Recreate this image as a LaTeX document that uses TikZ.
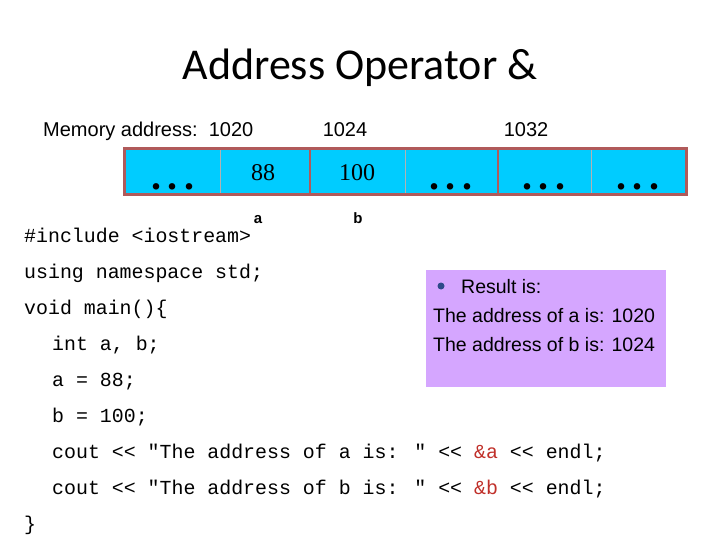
\documentclass[tikz,border=0pt]{standalone}
\usepackage{fontspec}
\setmainfont{Liberation Sans}
\newfontfamily\titlefont{Carlito}
\newfontfamily\codefont{Liberation Mono}
\newfontfamily\cellfont{Liberation Serif}
\definecolor{cellblue}{HTML}{00CCFF}
\definecolor{cellborder}{HTML}{B05A5A}
\definecolor{resbg}{HTML}{D5A6FF}
\definecolor{amp}{HTML}{C0302A}
\definecolor{bullet}{HTML}{2E4A8A}
\begin{document}
\begin{tikzpicture}[x=1pt,y=-1pt,
  cell/.style={fill=cellblue,minimum height=44pt,inner sep=0pt,anchor=north west},
  code/.style={anchor=base west,inner sep=0pt,font=\codefont\fontsize{19.9}{22}\selectfont},
  lab/.style={anchor=base,inner sep=0pt,font=\fontsize{20}{22}\selectfont},
  dots/.style={font=\cellfont\fontsize{40}{40}\selectfont\bfseries}]
\useasboundingbox (0,0) rectangle (720,540);
\node[inner sep=0pt,font=\titlefont\fontsize{44}{46}\selectfont] (title) at (360,68) {Address Operator \&};
\node[lab,anchor=base west] (ma) at (43,137) {Memory address:\ \ 1020};
\node[lab] (l1024) at (345,137) {1024};
\node[lab] (l1032) at (526,137) {1032};
\foreach \x/\w/\n in {124/96/c1,220/90/c2,310/95/c3,405/93/c4,498/93/c5,591/95/c6}
  \node[cell,minimum width=\w pt] (\n) at (\x,150) {};
\draw[gray!60,line width=0.8pt] (220,150) -- (220,195) (405,150) -- (405,195) (591,150) -- (591,195);
\draw[cellborder,line width=3pt] (124,149) rectangle (686,195);
\draw[cellborder,line width=2.5pt] (310,149) -- (310,195) (498,149) -- (498,195);
\node[font=\cellfont\fontsize{24}{26}\selectfont] (v88) at (263,173) {88};
\node[font=\cellfont\fontsize{24}{26}\selectfont] (v100) at (357,173) {100};
\foreach \n/\x in {d1/173,d4/451,d5/544,d6/638}
  \node[dots,anchor=base] (\n) at (\x,190) {.\,.\,.};
\node[lab,font=\bfseries\fontsize{15}{18}\selectfont] (la) at (258,224) {a};
\node[lab,font=\bfseries\fontsize{15}{18}\selectfont] (lb) at (358,224) {b};
\node[code] (c0) at (24,242) {\#include <iostream>};
\node[code] (c1) at (24,278) {using namespace std;};
\node[code] (c2) at (24,314) {void main()\{};
\node[code] (c3) at (52,350) {int a, b;};
\node[code] (c4) at (52,386) {a = 88;};
\node[code] (c5) at (52,422) {b = 100;};
\node[code] (c6) at (52,458) {cout << "The address of a is: " << \textcolor{amp}{\&a} << endl;};
\node[code] (c7) at (52,494) {cout << "The address of b is: " << \textcolor{amp}{\&b} << endl;};
\node[code] (c8) at (24,530) {\}};
\node[fill=resbg,minimum width=240pt,minimum height=117pt,anchor=north west,inner sep=0pt] (res) at (426,270) {};
\fill[bullet] (441,286) circle (3.5pt);
\node[lab,anchor=base west,font=\fontsize{19.5}{22}\selectfont] (r0) at (461,293) {Result is:};
\node[lab,anchor=base west,font=\fontsize{19.5}{22}\selectfont] (r1) at (433,322) {The address of a is: 1020};
\node[lab,anchor=base west,font=\fontsize{19.5}{22}\selectfont] (r2) at (433,351) {The address of b is: 1024};
\end{tikzpicture}
\end{document}
